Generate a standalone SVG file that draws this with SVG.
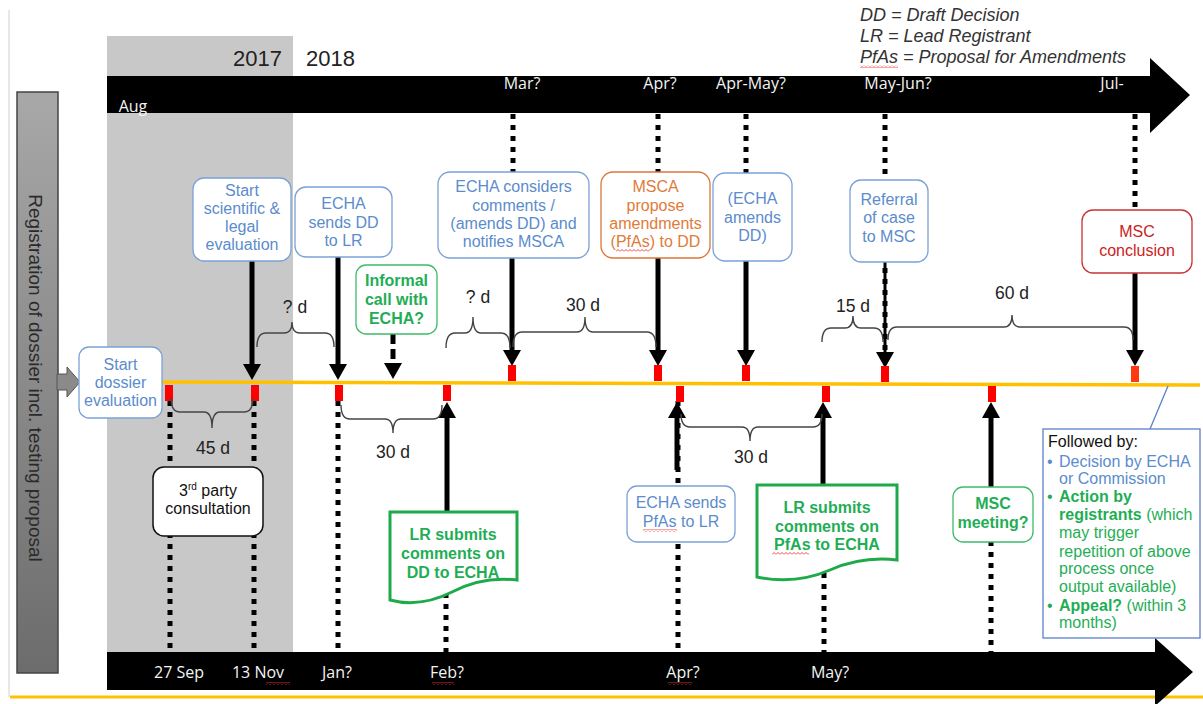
<svg xmlns="http://www.w3.org/2000/svg" width="1203" height="704" viewBox="0 0 1203 704">
<defs>
<linearGradient id="gbar" x1="0" y1="0" x2="0" y2="1"><stop offset="0" stop-color="#a8a8a8"/><stop offset="1" stop-color="#6c6c6c"/></linearGradient>
<marker id="ah" markerUnits="userSpaceOnUse" markerWidth="16" markerHeight="18" viewBox="0 0 16 18" refX="5" refY="9" orient="auto"><path d="M0,0 L16,9 L0,18 z" fill="#000"/></marker>
<pattern id="sq" width="4" height="3" patternUnits="userSpaceOnUse"><path d="M0,2.5 L2,0.5 L4,2.5" fill="none" stroke="#e33" stroke-width="0.9"/></pattern>
<style>
.box{fill:#fff;stroke:#7ba1d6;stroke-width:1.3}
.gbox{fill:#fff;stroke:#3dbb6a;stroke-width:1.3}
.doc{fill:#fff;stroke:#1faa4a;stroke-width:3}
.t{font-family:"Liberation Sans",Arial,sans-serif;font-size:16px;text-anchor:middle}
.bt{fill:#5b8ccc}
.gt{fill:#1fae55;font-weight:bold;font-size:16px}
.dot{stroke:#000;stroke-width:5;stroke-dasharray:5 6;fill:none}
.arr{stroke:#000;stroke-width:5;fill:none;marker-end:url(#ah)}
.brace{fill:none;stroke:#444;stroke-width:1.4}
.lbl{font-family:"Liberation Sans",Arial,sans-serif;font-size:17.5px;fill:#222;text-anchor:middle}
.wt{font-family:"Open Sans","Liberation Sans",sans-serif;font-size:16px;font-weight:500;fill:#f4f4f4;text-anchor:middle}
.rm{fill:#f00}
.leg{font-family:"Liberation Sans",Arial,sans-serif;font-size:18px;font-style:italic;fill:#333}
.fb{font-family:"Liberation Sans",Arial,sans-serif;font-size:16px}
</style>
</defs>

<!-- background -->
<line x1="9" y1="10" x2="9" y2="697" stroke="#d0d0d0" stroke-width="1"/>
<rect x="107" y="36" width="186" height="616" fill="#c8c8c8"/>
<line x1="10" y1="697" x2="1203" y2="697" stroke="#ffc000" stroke-width="3"/>

<!-- legend -->
<g id="legend">
<text class="leg" x="860" y="21">DD = Draft Decision</text>
<text class="leg" x="860" y="42">LR = Lead Registrant</text>
<text class="leg" x="860" y="63">PfAs = Proposal for Amendments</text>
<rect x="860" y="65" width="38" height="3" fill="url(#sq)"/>
</g>

<text x="282" y="66" font-family="Liberation Sans, Arial, sans-serif" font-size="22" fill="#222" text-anchor="end">2017</text>
<text x="306" y="66" font-family="Liberation Sans, Arial, sans-serif" font-size="22" fill="#222">2018</text>

<!-- top time arrow -->
<g id="top-axis">
<path d="M107,76 H1150 V58 L1190,95 L1150,133 V113 H107 Z" fill="#000"/>
<text class="wt" x="133" y="112">Aug</text>
<text class="wt" x="522" y="89">Mar?</text>
<text class="wt" x="660" y="89">Apr?</text>
<text class="wt" x="751" y="89">Apr-May?</text>
<text class="wt" x="898" y="89">May-Jun?</text>
<text class="wt" x="1112" y="89">Jul-</text>
</g>

<!-- bottom time arrow -->
<g id="bottom-axis">
<path d="M107,652 H1155 V638 L1193,672 L1155,706 V690 H107 Z" fill="#000"/>
<text class="wt" x="179" y="678">27 Sep</text>
<text class="wt" x="258" y="678">13 Nov</text>
<text class="wt" x="337" y="678">Jan?</text>
<text class="wt" x="447" y="678">Feb?</text>
<text class="wt" x="683" y="678">Apr?</text>
<text class="wt" x="830" y="678">May?</text>
<rect x="266" y="682" width="24" height="3" fill="url(#sq)"/>
<rect x="432" y="682" width="22" height="3" fill="url(#sq)"/>
<rect x="668" y="682" width="24" height="3" fill="url(#sq)"/>
</g>

<!-- left registration bar -->
<g id="registration">
<rect x="17" y="92" width="41" height="581" fill="url(#gbar)" stroke="#444" stroke-width="1.5"/>
<text transform="translate(29,378) rotate(90)" font-family="Liberation Sans, Arial, sans-serif" font-size="19" fill="#2a2a2a" text-anchor="middle">Registration of dossier incl. testing proposal</text>
<path d="M57,374 H67 V367 L80,382 L67,397 V390 H57 Z" fill="#8a8a8a" stroke="#555" stroke-width="1"/>
</g>

<!-- connectors -->
<g id="connectors">
<line x1="162" y1="382" x2="1200" y2="385" stroke="#ffc000" stroke-width="3.5"/>
<line class="dot" x1="513" y1="114" x2="513" y2="172"/>
<line class="dot" x1="658" y1="114" x2="658" y2="172"/>
<line class="dot" x1="746" y1="114" x2="746" y2="173"/>
<line class="dot" x1="885" y1="114" x2="885" y2="368"/>
<line class="dot" x1="1135" y1="114" x2="1135" y2="210"/>
<line class="dot" x1="170" y1="401" x2="170" y2="652"/>
<line class="dot" x1="254" y1="401" x2="254" y2="652"/>
<line class="dot" x1="338" y1="401" x2="338" y2="652"/>
<line class="dot" x1="446" y1="560" x2="446" y2="652"/>
<line class="dot" x1="678" y1="401" x2="678" y2="652"/>
<line class="dot" x1="824" y1="540" x2="824" y2="652"/>
<line class="dot" x1="991" y1="530" x2="991" y2="652"/>
<line class="arr" x1="252" y1="261" x2="252" y2="369"/>
<line class="arr" x1="338" y1="257" x2="338" y2="369"/>
<line class="arr" x1="393" y1="334" x2="393" y2="368" stroke-dasharray="10 5"/>
<line class="arr" x1="512" y1="258" x2="512" y2="355"/>
<line class="arr" x1="658" y1="258" x2="658" y2="355"/>
<line class="arr" x1="746" y1="261" x2="746" y2="355"/>
<line x1="885" y1="262" x2="885" y2="357" stroke="#000" stroke-width="3" marker-end="url(#ah)"/>
<line class="arr" x1="1135" y1="273" x2="1135" y2="355"/>
<line class="arr" x1="447" y1="512" x2="447" y2="413"/>
<line class="arr" x1="677" y1="470" x2="677" y2="413"/>
<line class="arr" x1="823" y1="486" x2="823" y2="413"/>
<line class="arr" x1="991" y1="487" x2="991" y2="413"/>
<rect class="rm" x="508" y="365" width="8" height="16"/>
<rect class="rm" x="654" y="365" width="8" height="16"/>
<rect class="rm" x="742" y="365" width="8" height="16"/>
<rect class="rm" x="881" y="366" width="8" height="16"/>
<rect x="1131" y="366" width="8" height="16" fill="#ff3a10"/>
<rect class="rm" x="165" y="385" width="8" height="16"/>
<rect class="rm" x="251" y="385" width="8" height="16"/>
<rect class="rm" x="335" y="385" width="8" height="16"/>
<rect class="rm" x="443" y="385" width="8" height="16"/>
<rect class="rm" x="676" y="386" width="8" height="16"/>
<rect class="rm" x="822" y="386" width="8" height="16"/>
<rect class="rm" x="988" y="386" width="8" height="16"/>
<path class="brace" d="M257,347 Q257,333 266,333 L284,333 Q292,333 292,322 Q292,333 300,333 L325,333 Q334,333 334,347"/>
<text class="lbl" x="295" y="313">? d</text>
<path class="brace" d="M446,348 Q446,333 455,333 L465,333 Q473,333 473,317 Q473,333 481,333 L501,333 Q510,333 510,348"/>
<text class="lbl" x="478" y="303">? d</text>
<path class="brace" d="M513,347 Q513,332 522,332 L577,332 Q585,332 585,317 Q585,332 593,332 L647,332 Q656,332 656,347"/>
<text class="lbl" x="583" y="311">30 d</text>
<path class="brace" d="M822,342 Q822,328 831,328 L845,328 Q853,328 853,316 Q853,328 861,328 L874,328 Q883,328 883,342"/>
<text class="lbl" x="853" y="312">15 d</text>
<path class="brace" d="M888,340 Q888,327 897,327 L1004,327 Q1012,327 1012,315 Q1012,327 1020,327 L1124,327 Q1133,327 1133,340"/>
<text class="lbl" x="1012" y="299">60 d</text>
<path class="brace" d="M171,398 Q171,412 180,412 L204,412 Q212,412 212,428 Q212,412 220,412 L244,412 Q253,412 253,398"/>
<text class="lbl" x="213" y="454">45 d</text>
<path class="brace" d="M341,405 Q341,419 350,419 L385,419 Q393,419 393,433 Q393,419 401,419 L433,419 Q442,419 442,405"/>
<text class="lbl" x="393" y="458">30 d</text>
<path class="brace" d="M681,414 Q681,427 690,427 L742,427 Q750,427 750,441 Q750,427 758,427 L813,427 Q822,427 822,414"/>
<text class="lbl" x="751" y="463">30 d</text>
<line x1="1168" y1="386" x2="1150" y2="429" stroke="#5a80c8" stroke-width="1.3"/>
</g>

<!-- nodes -->
<g id="start-dossier">
<rect class="box" x="79" y="347" width="83" height="71" rx="10"/>
<text class="t bt"><tspan x="120.5" y="370">Start</tspan><tspan x="120.5" y="388">dossier</tspan><tspan x="120.5" y="406">evaluation</tspan></text>
</g>
<g id="start-scientific">
<rect class="box" x="193" y="178" width="98" height="83" rx="11"/>
<text class="t bt"><tspan x="242" y="196">Start</tspan><tspan x="242" y="214">scientific &amp;</tspan><tspan x="242" y="232">legal</tspan><tspan x="242" y="250">evaluation</tspan></text>
</g>
<g id="echa-sends-dd">
<rect class="box" x="295" y="187" width="97" height="70" rx="11"/>
<text class="t bt"><tspan x="343.5" y="209">ECHA</tspan><tspan x="343.5" y="228">sends DD</tspan><tspan x="343.5" y="246">to LR</tspan></text>
</g>
<g id="informal-call">
<rect class="gbox" x="356" y="265" width="81" height="69" rx="10"/>
<text class="t gt"><tspan x="396.5" y="286">Informal</tspan><tspan x="396.5" y="305">call with</tspan><tspan x="396.5" y="324">ECHA?</tspan></text>
</g>
<g id="echa-considers">
<rect class="box" x="438" y="172" width="151" height="86" rx="12"/>
<text class="t bt"><tspan x="513.5" y="192">ECHA considers</tspan><tspan x="513.5" y="211">comments /</tspan><tspan x="513.5" y="229">(amends DD) and</tspan><tspan x="513.5" y="247">notifies MSCA</tspan></text>
</g>
<g id="msca-propose">
<rect x="601" y="172" width="109" height="86" rx="12" fill="#fff" stroke="#d9773a" stroke-width="1.3"/>
<text class="t" fill="#e07b39"><tspan x="655.5" y="192">MSCA</tspan><tspan x="655.5" y="211">propose</tspan><tspan x="655.5" y="229">amendments</tspan><tspan x="655.5" y="247">(PfAs) to DD</tspan></text>
<rect x="616" y="249" width="34" height="3" fill="url(#sq)"/>
</g>
<g id="echa-amends">
<rect class="box" x="713" y="173" width="79" height="88" rx="12"/>
<text class="t bt"><tspan x="752.5" y="204">(ECHA</tspan><tspan x="752.5" y="223">amends</tspan><tspan x="752.5" y="241">DD)</tspan></text>
</g>
<g id="referral">
<rect class="box" x="850" y="180" width="78" height="82" rx="11"/>
<text class="t bt"><tspan x="889" y="205">Referral</tspan><tspan x="889" y="223">of case</tspan><tspan x="889" y="242">to MSC</tspan></text>
</g>
<g id="msc-conclusion">
<rect x="1082" y="210" width="110" height="63" rx="11" fill="#fff" stroke="#c83232" stroke-width="1.3"/>
<text class="t" fill="#cc2222"><tspan x="1137" y="237">MSC</tspan><tspan x="1137" y="256">conclusion</tspan></text>
</g>
<g id="third-party">
<rect x="153" y="467" width="110" height="69" rx="11" fill="#fff" stroke="#111" stroke-width="1.5"/>
<text class="t" fill="#111"><tspan x="208" y="496">3<tspan font-size="10" dy="-6">rd</tspan><tspan dy="6"> party</tspan></tspan><tspan x="208" y="514">consultation</tspan></text>
</g>
<g id="lr-comments-dd">
<path class="doc" d="M390,512 H517 V580 Q482,576 452,592 Q420,608 390,600 Z"/>
<text class="t gt"><tspan x="453" y="540">LR submits</tspan><tspan x="453" y="559">comments on</tspan><tspan x="453" y="578">DD to ECHA</tspan></text>
</g>
<g id="echa-sends-pfas">
<rect class="box" x="627" y="486" width="108" height="56" rx="10"/>
<text class="t bt"><tspan x="681" y="508">ECHA sends</tspan><tspan x="681" y="527">PfAs to LR</tspan></text>
<rect x="643" y="529" width="34" height="3" fill="url(#sq)"/>
</g>
<g id="lr-comments-pfas">
<path class="doc" d="M757,485 H897 V560 Q862,556 830,570 Q795,585 757,577 Z"/>
<text class="t gt"><tspan x="827" y="513">LR submits</tspan><tspan x="827" y="532">comments on</tspan><tspan x="827" y="550">PfAs to ECHA</tspan></text>
<rect x="772" y="552" width="37" height="3" fill="url(#sq)"/>
</g>
<g id="msc-meeting">
<rect class="gbox" x="953" y="487" width="80" height="55" rx="10"/>
<text class="t gt"><tspan x="993" y="509">MSC</tspan><tspan x="993" y="528">meeting?</tspan></text>
</g>
<g id="followed-by">
<rect x="1043" y="429" width="157" height="209" fill="#fff" stroke="#5a80c8" stroke-width="1.3"/>
<text class="fb" x="1048" y="447" fill="#111">Followed by:</text>
<g class="fb" fill="#5b8ccc">
<text x="1047" y="467">•</text><text x="1059" y="467">Decision by ECHA</text>
<text x="1059" y="484">or Commission</text>
</g>
<g class="fb" fill="#1fae55">
<text x="1047" y="502">•</text><text x="1059" y="502" font-weight="bold">Action by</text>
<text x="1059" y="520"><tspan font-weight="bold">registrants</tspan> (which</text>
<text x="1059" y="538">may trigger</text>
<text x="1059" y="557">repetition of above</text>
<text x="1059" y="574">process once</text>
<text x="1059" y="592">output available)</text>
<text x="1047" y="611">•</text><text x="1059" y="611"><tspan font-weight="bold">Appeal?</tspan> (within 3</text>
<text x="1059" y="628">months)</text>
</g>
</g>
</svg>
